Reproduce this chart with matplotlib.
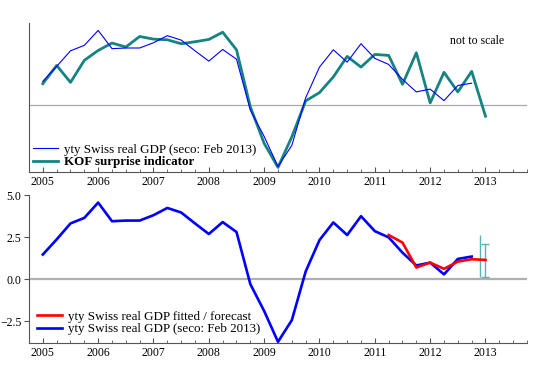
import matplotlib
matplotlib.use("Agg")
import matplotlib.pyplot as plt
import numpy as np

plt.rcParams['font.family'] = ['Liberation Serif', 'DejaVu Serif']

# quarterly dates
gdp_t = [2005.0 + 0.25 * i for i in range(32)]  # 2005.0 .. 2012.75
gdp = [1.46, 2.36, 3.31, 3.64, 4.55, 3.44, 3.48, 3.48,
       3.80, 4.23, 3.96, 3.31, 2.68, 3.39, 2.80, -0.30,
       -1.90, -3.73, -2.44, 0.45, 2.32, 3.37, 2.62, 3.74,
       2.85, 2.48, 1.57, 0.81, 0.98, 0.28, 1.20, 1.34]

kof_t = [2005.0 + 0.25 * i for i in range(33)]  # 2005.0 .. 2013.0
kof = [1.31, 2.42, 1.39, 2.73, 3.33, 3.78, 3.54, 4.18,
       4.02, 3.98, 3.74, 3.86, 4.00, 4.44, 3.37, -0.10,
       -2.32, -3.78, -1.92, 0.26, 0.77, 1.72, 2.97, 2.32,
       3.09, 3.03, 1.27, 3.19, 0.14, 2.00, 0.81, 2.06, -0.67]

fit_t = [2011.25, 2011.5, 2011.75, 2012.0, 2012.25, 2012.5, 2012.75, 2013.0]
fit = [2.62, 2.17, 0.69, 0.98, 0.61, 1.04, 1.18, 1.14]

band_x = 2012.9
band_lo, band_hi = 0.15, 2.62
err_x = 2013.0
err_lo, err_hi = 0.15, 2.09
err_mid = 1.14

years = [2005, 2006, 2007, 2008, 2009, 2010, 2011, 2012, 2013]

W, H = 550, 367
fig = plt.figure(figsize=(W / 100, H / 100), dpi=100)

def ax_rect(l, t, r, b):
    return [l / W, 1 - b / H, (r - l) / W, (b - t) / H]

ax1 = fig.add_axes(ax_rect(29, 23, 527, 172))
ax2 = fig.add_axes(ax_rect(29, 195, 527, 343))

spine_col = '#555555'
teal = '#168383'

for ax in (ax1, ax2):
    ax.set_xlim(2004.75, 2013.75)
    ax.spines['top'].set_visible(False)
    ax.spines['right'].set_visible(False)
    ax.spines['left'].set_color(spine_col)
    ax.spines['bottom'].set_color(spine_col)
    ax.spines['left'].set_linewidth(0.8)
    ax.spines['bottom'].set_linewidth(0.8)
    ax.set_xticks(years)
    ax.set_xticklabels([str(y) for y in years])
    ax.set_xticks(np.arange(2004.75, 2013.76, 0.25), minor=True)
    ax.tick_params(axis='x', which='major', direction='in', length=3.5, color=spine_col,
                   labelsize=8.5, pad=3)
    ax.tick_params(axis='x', which='minor', direction='in', length=2.2, color=spine_col)
    ax.set_facecolor('white')

# top panel
ax1.set_ylim(-4.06, 5.0)
ax1.set_yticks([])
ax1.axhline(0, color='#aaaaaa', lw=0.9, zorder=1)
ax1.plot(gdp_t, gdp, color='#0000ff', lw=0.8, label='yty Swiss real GDP (seco: Feb 2013)', zorder=3)
ax1.plot(kof_t, kof, color=teal, lw=2.0, label='KOF surprise indicator', zorder=2)
leg1 = ax1.legend(loc='lower left', frameon=False, fontsize=9.4, handlelength=1.9,
                  borderaxespad=0.0, labelspacing=0.0, handletextpad=0.45,
                  bbox_to_anchor=(0.0, 0.0), borderpad=0.3)
for txt in leg1.get_texts():
    if txt.get_text().startswith('KOF'):
        txt.set_fontweight('bold')
ax1.text(0.845, 0.88, 'not to scale', transform=ax1.transAxes, fontsize=8.5,
         ha='left', va='center')

# bottom panel
ax2.set_ylim(-3.8, 5.0)
ax2.set_yticks([5.0, 2.5, 0.0, -2.5])
ax2.set_yticklabels(['5.0', '2.5', '0.0', '\u22122.5'])
ax2.tick_params(axis='y', direction='out', length=3.5, color=spine_col, labelsize=8.5, pad=2)
ax2.axhline(0, color='#b0b0b0', lw=1.6, zorder=1)
ax2.plot(gdp_t, gdp, color='#0000ff', lw=1.9, label='yty Swiss real GDP (seco: Feb 2013)', zorder=2)
ax2.plot(fit_t, fit, color='#ff0000', lw=1.9, label='yty Swiss real GDP fitted / forecast', zorder=3)
ax2.vlines(band_x, band_lo, band_hi, color='#55b5b5', lw=1.0, zorder=2)
ax2.errorbar([err_x], [err_mid], yerr=[[err_mid - err_lo], [err_hi - err_mid]],
             fmt='none', ecolor='#55b5b5', elinewidth=1.0, capsize=3, capthick=1.0, zorder=2)
h, l = ax2.get_legend_handles_labels()
ax2.legend([h[1], h[0]], [l[1], l[0]], loc='lower left', frameon=False, fontsize=9.4,
           handlelength=1.9, borderaxespad=0.0, labelspacing=0.0, handletextpad=0.45,
           bbox_to_anchor=(0.0, 0.0), borderpad=0.6)

fig.savefig('out.png', dpi=100, facecolor='white')
